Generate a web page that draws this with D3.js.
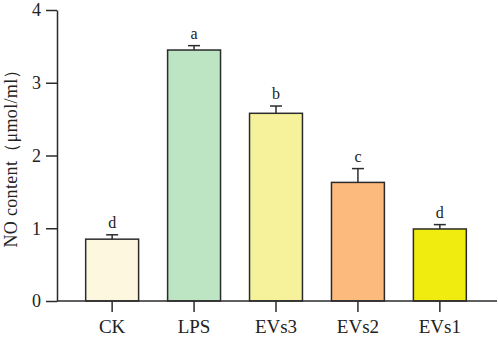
<!DOCTYPE html>
<html>
  <head>
    <meta charset="utf-8" />
    <title>NO content</title>
    <script src="https://d3js.org/d3.v7.min.js"></script>
    <style>
      body {
        margin: 0;
        background: #fff;
      }
      svg {
        font-family: "Liberation Serif", "Times New Roman", serif;
      }
      .axis path,
      .axis line {
        stroke: #2b2b2b;
        stroke-width: 1.5;
      }
    </style>
  </head>
  <body>
    <div id="chart"></div>
    <script>
      // values
      const groups = ["CK", "LPS", "EVs3", "EVs2", "EVs1"];
      const means = [0.85, 3.45, 2.58, 1.63, 0.99];
      const errors = [0.06, 0.06, 0.1, 0.19, 0.06];
      const letters = ["d", "a", "b", "c", "d"];
      const colors = ["#fdf7df", "#bde5c3", "#f6f29c", "#fdba7d", "#f1ec10"];
      const yTicks = [0, 1, 2, 3, 4];

      const width = 498;
      const height = 341;

      const svg = d3
        .select("#chart")
        .append("svg")
        .attr("width", width)
        .attr("height", height);

      //scales
      const x = d3
        .scaleBand()
        .domain(groups)
        .range([57, 495])
        .paddingInner(0.354)
        .paddingOuter(0.35);
      const y = d3.scaleLinear().domain([0, 4]).range([301, 10]);

      //bars
      svg
        .selectAll(".bar")
        .data(groups)
        .join("rect")
        .attr("class", "bar")
        .attr("x", (d) => x(d))
        .attr("y", (d, i) => y(means[i]))
        .attr("width", x.bandwidth())
        .attr("height", (d, i) => y(0) - y(means[i]))
        .attr("fill", (d, i) => colors[i])
        .attr("stroke", "#2b2b2b")
        .attr("stroke-width", 1.5);

      //error bars (upper only)
      const err = svg.append("g").attr("stroke", "#2b2b2b").attr("stroke-width", 1.5);
      groups.forEach((g, i) => {
        const cx = x(g) + x.bandwidth() / 2;
        err
          .append("line")
          .attr("x1", cx)
          .attr("x2", cx)
          .attr("y1", y(means[i]))
          .attr("y2", y(means[i] + errors[i]));
        err
          .append("line")
          .attr("x1", cx - 6)
          .attr("x2", cx + 6)
          .attr("y1", y(means[i] + errors[i]))
          .attr("y2", y(means[i] + errors[i]));
      });

      //significance letters
      svg
        .selectAll(".letter")
        .data(groups)
        .join("text")
        .attr("class", "letter")
        .attr("x", (d) => x(d) + x.bandwidth() / 2)
        .attr("y", (d, i) => y(means[i] + errors[i]) - 7)
        .attr("text-anchor", "middle")
        .attr("font-size", "16px")
        .attr("fill", "#222")
        .text((d, i) => letters[i]);

      //axes
      svg
        .append("g")
        .attr("class", "axis")
        .attr("transform", "translate(0,301)")
        .call(d3.axisBottom(x).tickSize(11).tickSizeOuter(0))
        .call((g) => g.select(".domain").attr("d", "M57,0H497"))
        .call((g) =>
          g.selectAll("text").attr("font-size", "19px").attr("fill", "#222").attr("dy", "0.95em")
        )
        .attr("font-family", null);

      svg
        .append("g")
        .attr("class", "axis")
        .attr("transform", "translate(57,0)")
        .call(d3.axisLeft(y).tickValues(yTicks).tickSize(11).tickSizeOuter(0).tickFormat(d3.format("d")))
        .call((g) =>
          g.selectAll("text").attr("font-size", "18px").attr("fill", "#222").attr("x", -16)
        )
        .attr("font-family", null);

      //y axis title
      svg
        .append("text")
        .attr("transform", "translate(17,154) rotate(-90)")
        .attr("text-anchor", "middle")
        .attr("font-size", "18px")
        .attr("fill", "#222")
        .attr("textLength", 187)
        .attr("lengthAdjust", "spacing")
        .text("NO content（μmol/ml）");
    </script>
  </body>
</html>
